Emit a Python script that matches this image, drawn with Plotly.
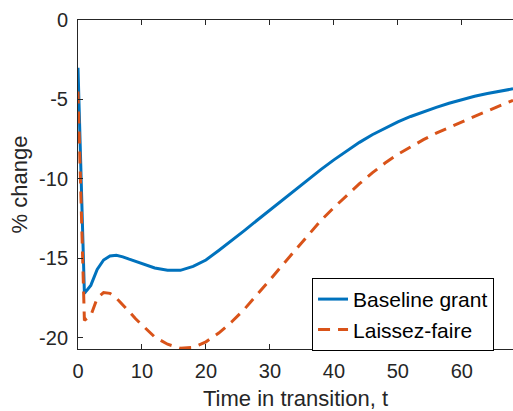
import plotly.graph_objects as go

t = [0, 1, 2, 3, 4, 5, 6, 7, 8, 9, 10, 12, 14, 16, 18, 20, 22, 24, 26, 28, 30,
     32, 34, 36, 38, 40, 42, 44, 46, 48, 50, 52, 54, 56, 58, 60, 62, 64, 66, 68]
baseline = [-3.0, -17.2, -16.7, -15.7, -15.1, -14.85, -14.8, -14.9, -15.05, -15.2,
            -15.35, -15.6, -15.75, -15.75, -15.5, -15.1, -14.5, -13.9, -13.25, -12.6,
            -11.95, -11.3, -10.65, -10.02, -9.4, -8.8, -8.23, -7.70, -7.22, -6.79,
            -6.41, -6.07, -5.77, -5.50, -5.24, -5.0, -4.8, -4.62, -4.47, -4.33]
laissez = [-4.5, -18.9, -18.6, -17.5, -17.15, -17.2, -17.5, -17.9, -18.35, -18.8,
           -19.2, -19.95, -20.4, -20.65, -20.6, -20.25, -19.7, -19.0, -18.2, -17.3,
           -16.35, -15.4, -14.45, -13.5, -12.6, -11.8, -11.03, -10.3, -9.62, -9.0,
           -8.45, -7.97, -7.53, -7.12, -6.75, -6.4, -6.06, -5.73, -5.4, -5.05]

x_ticks = [0, 10, 20, 30, 40, 50, 60]
y_ticks = [-20, -15, -10, -5, 0]
y_ticktext = ["-20", "-15", "-10", "-5", "0"]

FONT = "Liberation Sans, Arial, sans-serif"
AX = "#262626"

fig = go.Figure()
fig.add_trace(go.Scatter(x=t, y=baseline, mode="lines", name="Baseline grant",
                         line=dict(color="#0072BD", width=3)))
fig.add_trace(go.Scatter(x=t, y=laissez, mode="lines", name="Laissez-faire",
                         line=dict(color="#D95319", width=3, dash="12px,8px")))

fig.update_layout(
    width=513, height=411,
    margin=dict(l=78, r=0, t=20, b=62),
    plot_bgcolor="white", paper_bgcolor="white",
    font=dict(family=FONT, size=20, color=AX),
    showlegend=True,
    legend=dict(x=0.538, y=0.216, xanchor="left", yanchor="top",
                bordercolor="black", borderwidth=1, bgcolor="white",
                font=dict(size=21, color="black"), tracegroupgap=0),
    xaxis=dict(range=[0, 68], tickvals=x_ticks, ticks="inside", ticklen=5,
               tickcolor=AX, showline=True, linecolor=AX, linewidth=1,
               mirror="ticks", showgrid=False, zeroline=False,
               ticklabelstandoff=4,
               title=dict(text="Time in transition, t", font=dict(size=22), standoff=9)),
    yaxis=dict(range=[-20.7, 0], tickvals=y_ticks, ticktext=y_ticktext,
               ticks="inside", ticklen=5,
               tickcolor=AX, showline=True, linecolor=AX, linewidth=1,
               mirror=False, showgrid=False, zeroline=False,
               ticklabelstandoff=5,
               title=dict(text="% change", font=dict(size=22), standoff=5)),
)

fig.write_html("out.html")
